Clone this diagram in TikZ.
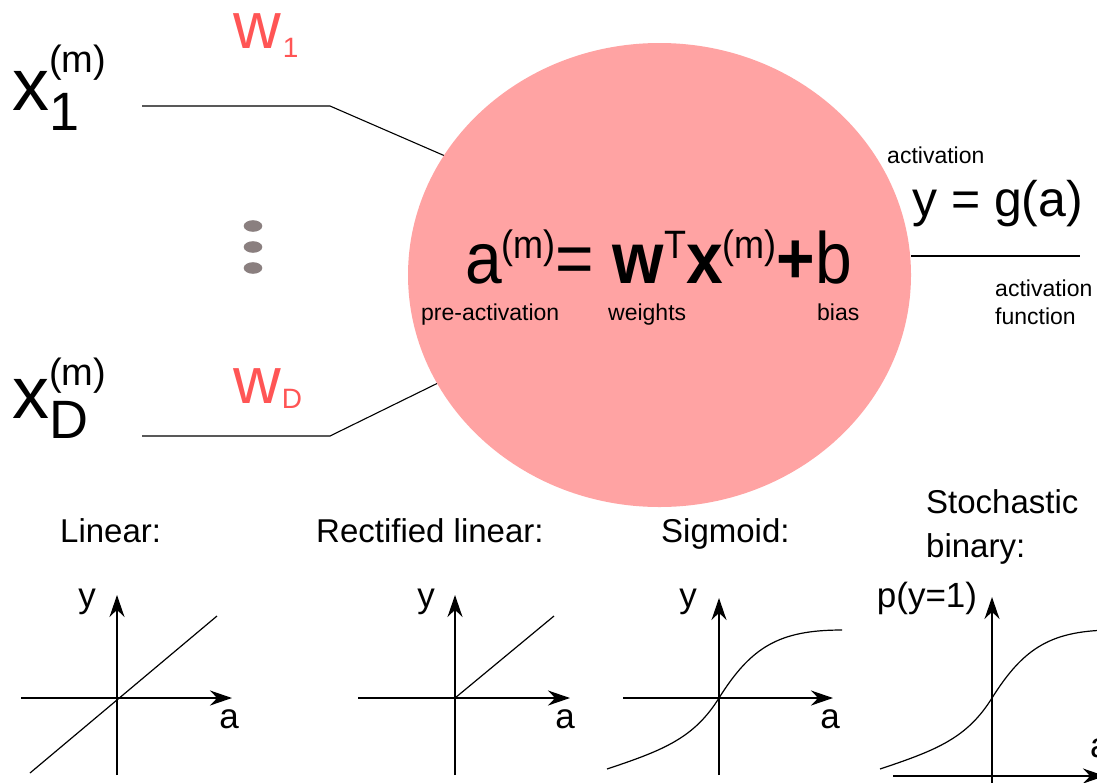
\documentclass[tikz,border=0pt]{standalone}
\usepackage{fontspec}
\setmainfont{Liberation Sans}
\usetikzlibrary{arrows.meta,shapes.geometric}
\definecolor{Cell}{HTML}{FFA3A3}
\definecolor{Wred}{HTML}{FF5555}
\definecolor{Dotgray}{HTML}{8A7F7F}
\newcommand{\fs}[1]{\fontsize{#1}{#1}\selectfont}
\newcommand{\sps}[1]{\raisebox{22pt}{\fs{36}#1}}
\tikzset{
  wire/.style={line width=1.1pt,draw=black},
  axis/.style={-{Stealth[length=22pt,width=15pt]},line width=1.8pt},
  curve/.style={line width=1.2pt},
  txt/.style={anchor=base west,inner sep=0pt},
  lbl/.style={anchor=base,inner sep=0pt,font=\fs{35}},
  title/.style={anchor=base west,inner sep=0pt,font=\fs{33}},
  small/.style={anchor=base west,inner sep=0pt,font=\fs{23}}
}

\begin{document}
\begin{tikzpicture}[x=1pt,y=-1pt]
  \useasboundingbox (0,0) rectangle (1097,782);
  % neuron
  \node[ellipse,fill=Cell,minimum width=503,minimum height=464,inner sep=0pt] (neuron) at (659.5,275) {};
  \node[txt,yscale=1.1,transform shape] (preact) at (465,283) {\fs{66}a\sps{(m)}= \textbf{w}\sps{T}\textbf{x}\sps{(m)}\textbf{+}b};
  \node[small] (lblpre) at (421,320) {pre-activation};
  \node[small] (lblw) at (608,320) {weights};
  \node[small] (lblb) at (817,320) {bias};

  % inputs
  \node[txt] (x1) at (12,110) {\fs{74}x\rlap{\raisebox{38pt}{\fs{38}(m)}}\raisebox{-20pt}{\fs{54}1}};
  \node[txt] (xD) at (12,418) {\fs{74}x\rlap{\raisebox{33pt}{\fs{38}(m)}}\raisebox{-20pt}{\fs{54}D}};
  \node[txt,text=Wred] (w1) at (233,48) {\fs{66}w\kern2pt\raisebox{-9pt}{\fs{28}1}};
  \node[txt,text=Wred] (wD) at (233,403) {\fs{66}w\kern1pt\raisebox{-5pt}{\fs{28}D}};
  \fill[Dotgray] (253,226) ellipse [x radius=9.3,y radius=5.8];
  \fill[Dotgray] (253,247) ellipse [x radius=9.3,y radius=5.8];
  \fill[Dotgray] (253,268) ellipse [x radius=9.3,y radius=5.8];
  \coordinate (in1) at (142,106);
  \coordinate (bend1) at (330,106);
  \coordinate (inD) at (142,436);
  \coordinate (bendD) at (330,436);
  \draw[wire] (in1) -- (bend1) -- (neuron.151.6);
  \draw[wire] (inD) -- (bendD) -- (neuron.206.5);

  % output
  \node[small] (lblact) at (887,163) {activation};
  \node[txt] (yout) at (912,216) {\fs{50}y = g(a)};
  \coordinate (out) at (1080,256);
  \draw[wire] (neuron.east |- out) -- (out);
  \node[small] (lblfun1) at (995,296) {activation};
  \node[small] (lblfun2) at (995,324) {function};

  % activation functions
  \node[title] (tlin) at (60,542) {Linear:};
  \node[title] (trelu) at (316,542) {Rectified linear:};
  \node[title] (tsig) at (661,542) {Sigmoid:};
  \node[title] (tsto1) at (926,513) {Stochastic};
  \node[title] (tsto2) at (926,557) {binary:};

  \begin{scope}[shift={(117,698)}]
    \draw[axis] (-96,0) -- (115,0);
    \draw[axis] (0,77) -- (0,-103);
    \draw[curve] (-87,75) -- (100,-82);
    \node[lbl] (ylin) at (-30,-91) {y};
    \node[lbl] (alin) at (112,30) {a};
  \end{scope}

  \begin{scope}[shift={(455,698)}]
    \draw[axis] (-97,0) -- (115,0);
    \draw[axis] (0,77) -- (0,-103);
    \draw[curve] (0,0) -- (99,-82);
    \node[lbl] (yrelu) at (-29,-91) {y};
    \node[lbl] (arelu) at (110,30) {a};
  \end{scope}

  \begin{scope}[shift={(719,698)}]
    \draw[axis] (-96,0) -- (114,0);
    \draw[axis] (0,77) -- (0,-100);
    \draw[curve] (-112,71) .. controls (-55,52) and (-25,40) .. (0,0)
                 .. controls (32,-51) and (60,-68) .. (123,-68);
    \node[lbl] (ysig) at (-31,-91) {y};
    \node[lbl] (asig) at (111,30) {a};
  \end{scope}

  \begin{scope}[shift={(992,698)}]
    \draw[axis] (-99,78) -- (113,78);
    \draw[axis] (0,92) -- (0,-101);
    \draw[curve] (-112,71) .. controls (-55,52) and (-25,40) .. (0,0)
                 .. controls (32,-51) and (60,-68) .. (123,-68);
    \node[lbl] (ysto) at (-65,-91) {p(y=1)};
    \node[lbl,anchor=base west] (asto) at (98,59) {a};
  \end{scope}
\end{tikzpicture}
\end{document}
